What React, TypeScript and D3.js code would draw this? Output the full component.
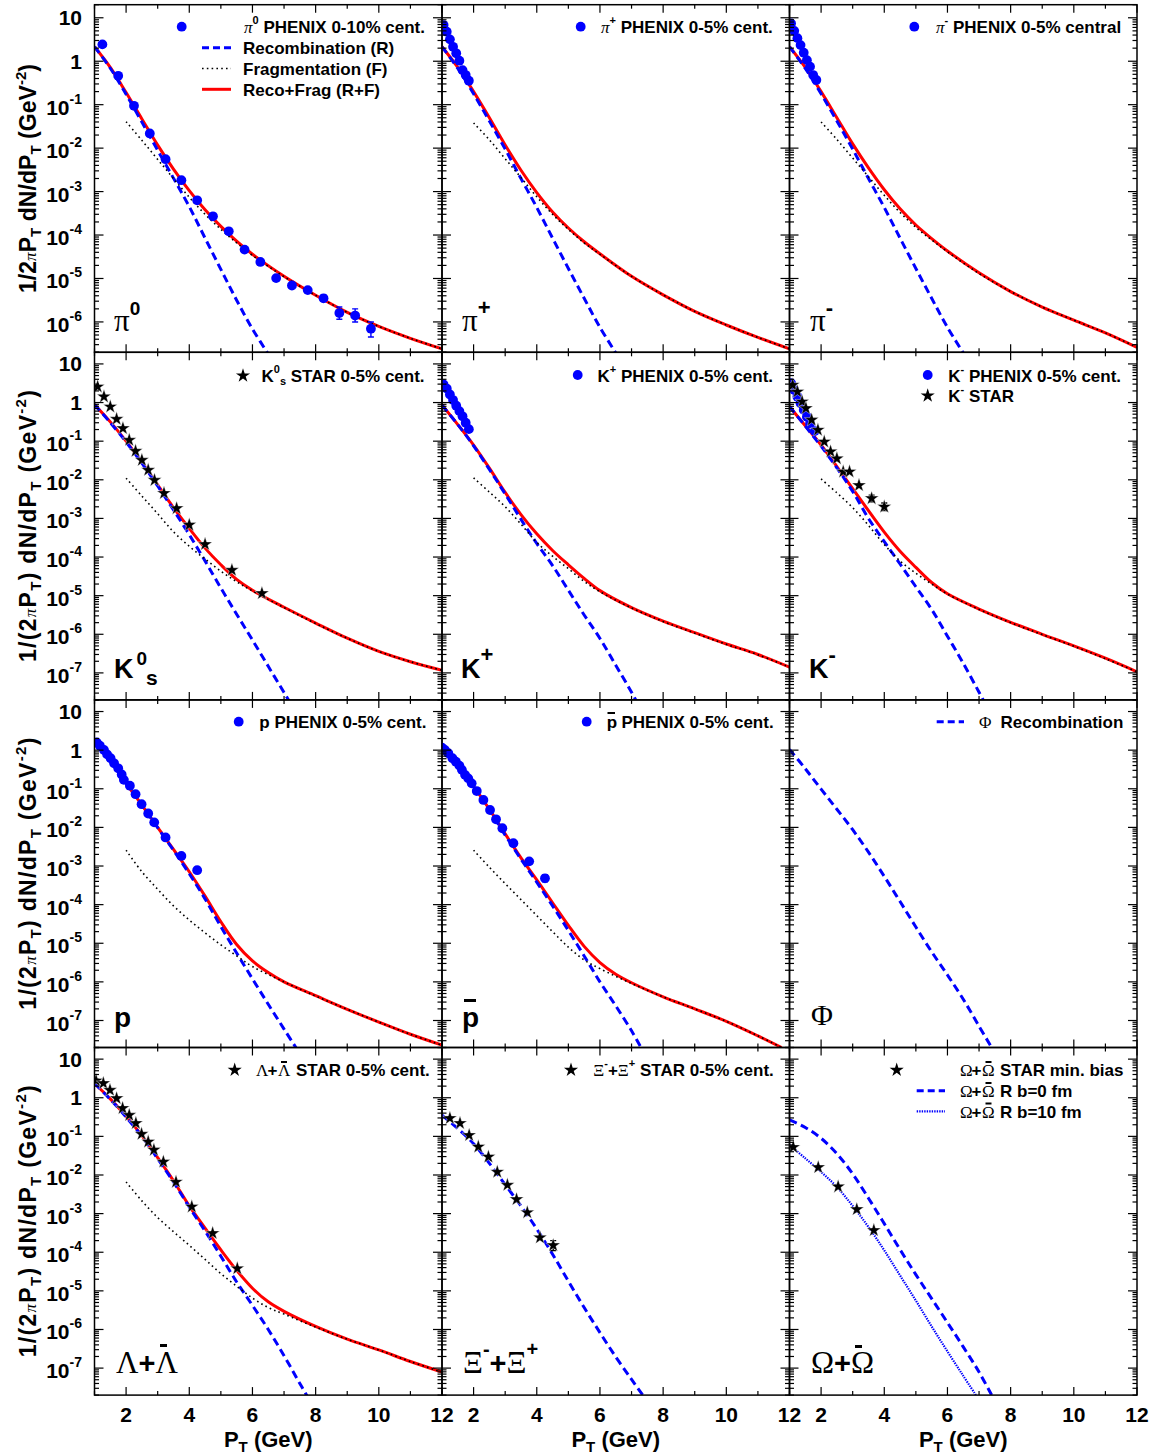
import React from 'react';
import * as d3 from 'd3';

const W = 1158, H = 1456;
const X0 = 94.5, PW = 347.5, Y0 = 4.7, PH = 347.6;
const BLUE = '#0000ff', RED = '#ff0000';
const SANS = "'Liberation Sans', Arial, Helvetica, sans-serif";
const SERIF = "'Liberation Serif', 'Times New Roman', serif";

// ---- axis definitions ----
const xDomain = [1, 12];
const xMajorTicks = [2, 4, 6, 8, 10, 12];
const xMinorTicks = [1, 3, 5, 7, 9, 11];
const yDomainTop = [2e-7, 20];
const yDomainLow = [2e-8, 20];
const yDecadesTop = [1, 0, -1, -2, -3, -4, -5, -6];
const yDecadesLow = [1, 0, -1, -2, -3, -4, -5, -6, -7];

// ---- pi0 ----
const pi0Data = [[1.25, 2.44], [1.75, 0.462], [2.25, 0.0942], [2.75, 0.0218], [3.25, 5.57e-3], [3.75, 1.83e-3], [4.25, 6.3e-4], [4.75, 2.7e-4], [5.25, 1.22e-4], [5.75, 4.62e-5], [6.25, 2.4e-5], [6.75, 1.02e-5], [7.25, 6.9e-6], [7.75, 5.4e-6], [8.25, 3.5e-6], [8.75, 1.6e-6], [9.25, 1.4e-6], [9.75, 7.0e-7]];
const pi0Err = [[8.25, 3.0e-6, 4.1e-6], [8.75, 1.15e-6, 2.2e-6], [9.25, 1.0e-6, 2.0e-6], [9.75, 4.5e-7, 1.0e-6]];
const pi0Reco = [[1, 2.15], [1.5, 0.69], [2, 0.174], [2.5, 0.0398], [3, 8.9e-3], [3.5, 2.04e-3], [4, 4.5e-4], [4.5, 8.5e-5], [5, 1.62e-5], [5.5, 3.16e-6], [6, 6.9e-7], [6.6, 1.41e-7]];
const pi0Frag = [[2, 0.0407], [2.5, 0.0151], [3, 5.5e-3], [3.5, 2.0e-3], [4, 7.4e-4], [4.5, 3.0e-4], [5, 1.35e-4], [5.5, 6.6e-5], [6, 3.4e-5], [7, 1.1e-5], [8, 4.1e-6], [9, 1.66e-6], [10, 7.9e-7], [11, 4.2e-7], [12, 2.4e-7]];
const pi0Sum = [[1, 2.15], [1.5, 0.72], [2, 0.19], [2.5, 0.047], [3, 0.0117], [3.5, 3.3e-3], [4, 1.05e-3], [4.5, 3.8e-4], [5, 1.58e-4], [5.5, 7.2e-5], [6, 3.6e-5], [7, 1.12e-5], [8, 4.1e-6], [9, 1.66e-6], [10, 7.9e-7], [11, 4.2e-7], [12, 2.4e-7]];

// ---- pi+ ----
const piPlusData = [[1.05, 6.8], [1.15, 4.78], [1.25, 3.19], [1.35, 2.15], [1.45, 1.52], [1.55, 1.03], [1.65, 0.625], [1.75, 0.48], [1.85, 0.355]];
const piPlusReco = [[1, 2.15], [1.5, 0.68], [2, 0.178], [2.5, 0.042], [3, 9.5e-3], [3.5, 2.0e-3], [4, 4.3e-4], [4.5, 8.5e-5], [5, 1.7e-5], [5.5, 3.5e-6], [6, 7.5e-7], [6.6, 1.5e-7]];
const piPlusFrag = [[2, 0.038], [2.5, 0.0155], [3, 5.7e-3], [3.5, 2.1e-3], [4, 7.6e-4], [4.5, 3.0e-4], [5, 1.35e-4], [5.5, 6.6e-5], [6, 3.6e-5], [7, 1.12e-5], [8, 4.2e-6], [9, 1.75e-6], [10, 8.5e-7], [11, 4.4e-7], [12, 2.4e-7]];
const piPlusSum = [[1, 2.15], [1.5, 0.72], [2, 0.2], [2.5, 0.05], [3, 0.0118], [3.5, 3.1e-3], [4, 9.5e-4], [4.5, 3.4e-4], [5, 1.45e-4], [5.5, 7.0e-5], [6, 3.7e-5], [7, 1.12e-5], [8, 4.2e-6], [9, 1.75e-6], [10, 8.5e-7], [11, 4.4e-7], [12, 2.4e-7]];

// ---- pi- ----
const piMinusData = [[1.05, 7.4], [1.15, 5.0], [1.25, 3.4], [1.35, 2.35], [1.45, 1.57], [1.55, 1.06], [1.65, 0.75], [1.75, 0.48], [1.85, 0.37]];
const piMinusReco = [[1, 2.15], [1.5, 0.68], [2, 0.178], [2.5, 0.042], [3, 9.5e-3], [3.5, 2.0e-3], [4, 4.3e-4], [4.5, 8.5e-5], [5, 1.7e-5], [5.5, 3.5e-6], [6, 7.5e-7], [6.6, 1.5e-7]];
const piMinusFrag = [[2, 0.04], [2.5, 0.0158], [3, 5.9e-3], [3.5, 2.2e-3], [4, 8.2e-4], [4.5, 3.3e-4], [5, 1.5e-4], [5.5, 7.7e-5], [6, 4.1e-5], [7, 1.3e-5], [8, 5.0e-6], [9, 2.2e-6], [10, 1.1e-6], [11, 5.6e-7], [12, 2.6e-7]];
const piMinusSum = [[1, 2.15], [1.5, 0.72], [2, 0.2], [2.5, 0.05], [3, 0.0125], [3.5, 3.5e-3], [4, 1.1e-3], [4.5, 4.0e-4], [5, 1.7e-4], [5.5, 8.3e-5], [6, 4.3e-5], [7, 1.35e-5], [8, 5.0e-6], [9, 2.2e-6], [10, 1.1e-6], [11, 5.6e-7], [12, 2.6e-7]];

// ---- K0s ----
const k0sData = [[1.1, 2.57], [1.3, 1.42], [1.5, 0.78], [1.7, 0.374], [1.9, 0.215], [2.1, 0.107], [2.3, 0.0555], [2.5, 0.0324], [2.7, 0.0179], [2.9, 9.8e-3], [3.2, 4.5e-3], [3.6, 1.82e-3], [4.0, 6.8e-4], [4.5, 2.14e-4], [5.35, 4.6e-5], [6.3, 1.15e-5]];
const k0sReco = [[1, 0.89], [1.5, 0.302], [2, 0.0955], [2.5, 0.0269], [3, 6.9e-3], [3.5, 1.66e-3], [4, 3.8e-4], [4.5, 7.9e-5], [5, 1.58e-5], [5.5, 3.3e-6], [6, 7.1e-7], [6.5, 1.48e-7], [7, 3.1e-8], [7.25, 1.41e-8]];
const k0sFrag = [[2, 0.011], [2.5, 3.8e-3], [3, 1.32e-3], [3.5, 4.5e-4], [4, 1.9e-4], [4.5, 8.9e-5], [5, 4.3e-5], [5.5, 2.3e-5], [6, 1.32e-5], [7, 4.9e-6], [8, 1.9e-6], [9, 7.9e-7], [10, 3.6e-7], [11, 1.95e-7], [12, 1.17e-7]];
const k0sSum = [[1, 0.89], [1.5, 0.316], [2, 0.1], [2.5, 0.0282], [3, 7.4e-3], [3.5, 1.9e-3], [4, 5.5e-4], [4.5, 1.7e-4], [5, 6.3e-5], [5.5, 2.63e-5], [6, 1.38e-5], [7, 5.0e-6], [8, 1.95e-6], [9, 7.9e-7], [10, 3.6e-7], [11, 1.95e-7], [12, 1.17e-7]];

// ---- K+ ----
const kPlusData = [[1.05, 2.95], [1.15, 2.3], [1.25, 1.62], [1.35, 1.16], [1.45, 0.83], [1.55, 0.6], [1.65, 0.44], [1.75, 0.3], [1.85, 0.205]];
const kPlusReco = [[1, 0.85], [1.5, 0.269], [2, 0.0759], [2.5, 0.0186], [3, 4.3e-3], [3.5, 9.5e-4], [4, 2.24e-4], [4.5, 6.0e-5], [5, 1.38e-5], [5.5, 3.16e-6], [6, 7.8e-7], [6.5, 1.58e-7], [7, 3.16e-8], [7.2, 1.58e-8]];
const kPlusFrag = [[2, 0.0112], [2.5, 4.8e-3], [3, 2.0e-3], [3.5, 7.1e-4], [4, 2.4e-4], [4.5, 1.05e-4], [5, 5.0e-5], [5.5, 2.34e-5], [6, 1.26e-5], [7, 4.8e-6], [8, 2.14e-6], [9, 1.07e-6], [10, 5.5e-7], [11, 2.95e-7], [12, 1.41e-7]];
const kPlusSum = [[1, 0.87], [1.5, 0.269], [2, 0.0794], [2.5, 0.02], [3, 4.7e-3], [3.5, 1.26e-3], [4, 4.0e-4], [4.5, 1.48e-4], [5, 6.3e-5], [5.5, 2.8e-5], [6, 1.35e-5], [7, 4.9e-6], [8, 2.19e-6], [9, 1.1e-6], [10, 5.6e-7], [11, 3.0e-7], [12, 1.41e-7]];

// ---- K- ----
const kMinusPhenix = [[1.05, 3.16], [1.15, 2.11], [1.25, 1.41], [1.35, 0.955], [1.45, 0.645], [1.55, 0.427], [1.65, 0.288], [1.8, 0.182]];
const kMinusStar = [[1.1, 2.84], [1.25, 1.9], [1.4, 1.05], [1.52, 0.71], [1.7, 0.355], [1.9, 0.195], [2.1, 0.0966], [2.3, 0.0537], [2.5, 0.0355], [2.7, 0.0162], [2.9, 0.0162], [3.2, 7.2e-3], [3.6, 3.3e-3], [4.0, 2.0e-3]];
const kMinusStarErr = [[3.6, 2.7e-3, 4.0e-3], [4.0, 1.6e-3, 2.5e-3]];
const kMinusReco = [[1, 0.79], [1.5, 0.245], [2, 0.0741], [2.5, 0.0204], [3, 5.0e-3], [3.5, 1.0e-3], [4, 2.5e-4], [4.5, 6.6e-5], [5, 1.7e-5], [5.5, 4.4e-6], [6, 8.9e-7], [6.5, 1.78e-7], [7, 3.16e-8], [7.2, 1.58e-8]];
const kMinusFrag = [[2, 0.0105], [2.5, 4.6e-3], [3, 1.9e-3], [3.5, 6.6e-4], [4, 2.1e-4], [4.5, 7.9e-5], [5, 3.8e-5], [5.5, 2.0e-5], [6, 1.1e-5], [7, 4.4e-6], [8, 2.0e-6], [9, 9.8e-7], [10, 4.9e-7], [11, 2.34e-7], [12, 1.07e-7]];
const kMinusSum = [[1, 0.79], [1.5, 0.25], [2, 0.0794], [2.5, 0.0219], [3, 5.9e-3], [3.5, 1.58e-3], [4, 4.4e-4], [4.5, 1.41e-4], [5, 5.4e-5], [5.5, 2.19e-5], [6, 1.12e-5], [7, 4.5e-6], [8, 2.04e-6], [9, 1.0e-6], [10, 5.0e-7], [11, 2.4e-7], [12, 1.07e-7]];

// ---- p ----
const pData = [[1.07, 1.58], [1.17, 1.3], [1.3, 1.01], [1.4, 0.776], [1.51, 0.617], [1.62, 0.457], [1.75, 0.339], [1.86, 0.234], [1.93, 0.17], [2.12, 0.12], [2.3, 0.0724], [2.49, 0.0398], [2.7, 0.0229], [2.89, 0.0135], [3.25, 5.5e-3], [3.75, 1.82e-3], [4.25, 7.8e-4]];
const pErr = [[4.25, 6.6e-4, 9.2e-4]];
const pReco = [[1, 1.66], [1.5, 0.537], [2, 0.138], [2.5, 0.0372], [3, 9.8e-3], [3.5, 2.57e-3], [4, 6.3e-4], [4.5, 1.41e-4], [5, 2.7e-5], [5.5, 5.6e-6], [6, 1.2e-6], [6.5, 2.63e-7], [7, 6.0e-8], [7.5, 1.38e-8]];
const pFrag = [[2, 2.57e-3], [2.5, 7.1e-4], [3, 2.5e-4], [3.5, 9.3e-5], [4, 4.0e-5], [4.5, 1.86e-5], [5, 9.1e-6], [5.5, 4.7e-6], [6, 2.5e-6], [7, 1.0e-6], [8, 4.3e-7], [9, 1.95e-7], [10, 9.1e-8], [11, 4.4e-8], [12, 2.3e-8]];
const pSum = [[1, 1.66], [1.5, 0.537], [2, 0.138], [2.5, 0.038], [3, 0.01], [3.5, 2.69e-3], [4, 7.1e-4], [4.5, 1.66e-4], [5, 3.6e-5], [5.5, 9.3e-6], [6, 3.5e-6], [6.5, 1.74e-6], [7, 1.0e-6], [8, 4.4e-7], [9, 1.95e-7], [10, 9.1e-8], [11, 4.4e-8], [12, 2.3e-8]];

// ---- pbar ----
const pbarData = [[1.0, 1.16], [1.09, 1.01], [1.2, 0.832], [1.33, 0.617], [1.44, 0.501], [1.55, 0.398], [1.63, 0.309], [1.73, 0.229], [1.83, 0.186], [1.94, 0.138], [2.1, 0.0871], [2.31, 0.0513], [2.52, 0.0282], [2.71, 0.0162], [2.91, 9.5e-3], [3.26, 3.9e-3], [3.76, 1.32e-3], [4.26, 4.8e-4]];
const pbarErr = [[4.26, 3.9e-4, 5.9e-4]];
const pbarReco = [[1, 1.12], [1.5, 0.398], [2, 0.112], [2.5, 0.0282], [3, 6.3e-3], [3.5, 1.51e-3], [4, 3.8e-4], [4.5, 9.3e-5], [5, 2.14e-5], [5.5, 4.7e-6], [6, 1.0e-6], [6.5, 2.4e-7], [7, 5.4e-8], [7.3, 2.0e-8]];
const pbarFrag = [[2, 2.57e-3], [2.5, 9.3e-4], [3, 3.5e-4], [3.5, 1.35e-4], [4, 5.2e-5], [4.5, 2.0e-5], [5, 7.9e-6], [5.5, 3.7e-6], [6, 2.2e-6], [7, 9.1e-7], [8, 4.1e-7], [9, 2.0e-7], [10, 9.5e-8], [11, 4.0e-8], [11.75, 2.0e-8]];
const pbarSum = [[1, 1.12], [1.5, 0.398], [2, 0.115], [2.5, 0.0295], [3, 6.8e-3], [3.5, 1.62e-3], [4, 4.4e-4], [4.5, 1.12e-4], [5, 2.9e-5], [5.5, 8.3e-6], [6, 3.16e-6], [6.5, 1.58e-6], [7, 9.5e-7], [8, 4.1e-7], [9, 2.0e-7], [10, 9.5e-8], [11, 4.0e-8], [11.75, 2.0e-8]];

// ---- phi ----
const phiReco = [[1, 1.05], [1.5, 0.331], [2, 0.0977], [2.5, 0.0295], [3, 8.7e-3], [3.5, 2.29e-3], [4, 5.4e-4], [4.5, 1.2e-4], [5, 2.63e-5], [5.5, 6.0e-6], [6, 1.51e-6], [6.5, 3.55e-7], [7, 7.1e-8], [7.4, 2.0e-8]];

// ---- Lambda ----
const lamData = [[1.05, 2.76], [1.28, 2.37], [1.49, 1.58], [1.7, 0.966], [1.89, 0.537], [2.1, 0.355], [2.31, 0.219], [2.49, 0.115], [2.7, 0.0724], [2.88, 0.0447], [3.18, 0.0219], [3.58, 6.6e-3], [4.08, 1.51e-3], [4.74, 3.1e-4], [5.52, 3.8e-5]];
const lamReco = [[1, 2.34], [1.5, 0.912], [2, 0.316], [2.5, 0.1], [3, 0.0263], [3.5, 6.6e-3], [4, 1.48e-3], [4.5, 3.55e-4], [5, 7.9e-5], [5.5, 1.7e-5], [6, 4.2e-6], [6.5, 1.0e-6], [7, 2.1e-7], [7.5, 4.0e-8], [7.75, 1.78e-8]];
const lamFrag = [[2, 6.6e-3], [2.5, 2.14e-3], [3, 7.9e-4], [3.5, 3.4e-4], [4, 1.51e-4], [4.5, 6.5e-5], [5, 2.8e-5], [5.5, 1.32e-5], [6, 6.5e-6], [6.5, 3.7e-6], [7, 2.5e-6], [8, 1.15e-6], [9, 5.6e-7], [10, 2.95e-7], [11, 1.48e-7], [12, 7.9e-8]];
const lamSum = [[1, 2.34], [1.5, 0.933], [2, 0.331], [2.5, 0.105], [3, 0.0282], [3.5, 7.1e-3], [4, 1.58e-3], [4.5, 4.2e-4], [5, 1.15e-4], [5.5, 3.4e-5], [6, 1.17e-5], [6.5, 5.2e-6], [7, 2.95e-6], [8, 1.2e-6], [9, 5.6e-7], [10, 2.95e-7], [11, 1.48e-7], [12, 7.9e-8]];

// ---- Xi ----
const xiData = [[1.25, 0.295], [1.57, 0.219], [1.86, 0.107], [2.15, 0.0537], [2.47, 0.0295], [2.75, 0.012], [3.07, 5.5e-3], [3.36, 2.34e-3], [3.7, 1.07e-3], [4.1, 2.4e-4], [4.52, 1.51e-4]];
const xiErr = [[4.52, 1.1e-4, 2.0e-4]];
const xiReco = [[1, 0.355], [1.5, 0.158], [2, 0.0646], [2.5, 0.02], [3, 5.6e-3], [3.5, 1.58e-3], [4, 4.0e-4], [4.5, 8.9e-5], [5, 1.78e-5], [5.5, 3.7e-6], [6, 8.3e-7], [6.5, 1.95e-7], [7, 5.1e-8], [7.4, 1.78e-8]];

// ---- Omega ----
const omegaData = [[1.12, 0.0525], [1.91, 0.0158], [2.54, 5.0e-3], [3.13, 1.29e-3], [3.67, 3.7e-4]];
const omegaRecoB0 = [[1, 0.269], [1.5, 0.17], [2, 0.0891], [2.5, 0.0355], [3, 0.0107], [3.5, 2.51e-3], [4, 5.5e-4], [4.5, 1.17e-4], [5, 2.63e-5], [5.5, 6.3e-6], [6, 1.51e-6], [6.5, 3.55e-7], [7, 7.9e-8], [7.4, 2.0e-8]];
const omegaRecoB10 = [[1, 0.0603], [1.5, 0.0269], [2, 0.012], [2.5, 4.9e-3], [3, 1.58e-3], [3.5, 4.5e-4], [4, 1.12e-4], [4.5, 2.5e-5], [5, 5.6e-6], [5.5, 1.2e-6], [6, 2.7e-7], [6.5, 6.3e-8], [6.9, 2.0e-8]];

const STYLE = {
  R: { stroke: BLUE, strokeWidth: 3, strokeDasharray: '8,4.5' },
  F: { stroke: '#000', strokeWidth: 1.6, strokeDasharray: '1.6,3.2' },
  S: { stroke: RED, strokeWidth: 3 },
  D: { stroke: BLUE, strokeWidth: 2.2, strokeDasharray: '1.4,1.1' },
};

const panels = [
  { row: 0, col: 0, curves: [['S', pi0Sum], ['R', pi0Reco], ['F', pi0Frag]], marks: [['circle', pi0Data]], errs: [['circle', pi0Err]] },
  { row: 0, col: 1, curves: [['S', piPlusSum], ['R', piPlusReco], ['F', piPlusFrag]], marks: [['circle', piPlusData]], errs: [] },
  { row: 0, col: 2, curves: [['S', piMinusSum], ['R', piMinusReco], ['F', piMinusFrag]], marks: [['circle', piMinusData]], errs: [] },
  { row: 1, col: 0, curves: [['S', k0sSum], ['R', k0sReco], ['F', k0sFrag]], marks: [['star', k0sData]], errs: [] },
  { row: 1, col: 1, curves: [['S', kPlusSum], ['R', kPlusReco], ['F', kPlusFrag]], marks: [['circle', kPlusData]], errs: [] },
  { row: 1, col: 2, curves: [['S', kMinusSum], ['R', kMinusReco], ['F', kMinusFrag]], marks: [['circle', kMinusPhenix], ['star', kMinusStar]], errs: [['star', kMinusStarErr]] },
  { row: 2, col: 0, curves: [['S', pSum], ['R', pReco], ['F', pFrag]], marks: [['circle', pData]], errs: [['circle', pErr]] },
  { row: 2, col: 1, curves: [['S', pbarSum], ['R', pbarReco], ['F', pbarFrag]], marks: [['circle', pbarData]], errs: [['circle', pbarErr]] },
  { row: 2, col: 2, curves: [['R', phiReco]], marks: [], errs: [] },
  { row: 3, col: 0, curves: [['S', lamSum], ['R', lamReco], ['F', lamFrag]], marks: [['star', lamData]], errs: [] },
  { row: 3, col: 1, curves: [['R', xiReco]], marks: [['star', xiData]], errs: [['star', xiErr]] },
  { row: 3, col: 2, curves: [['R', omegaRecoB0], ['D', omegaRecoB10]], marks: [['star', omegaData]], errs: [] },
];

const starPath = d3.symbol().type(d3.symbolStar).size(62)();

function xScaleFor(col) {
  return d3.scaleLinear().domain(xDomain).range([X0 + col * PW, X0 + (col + 1) * PW]);
}
function yScaleFor(row) {
  return d3.scaleLog().domain(row === 0 ? yDomainTop : yDomainLow).range([Y0 + (row + 1) * PH, Y0 + row * PH]);
}

function Panel({ p }) {
  const x = xScaleFor(p.col);
  const y = yScaleFor(p.row);
  const [xl, xr] = x.range();
  const [yb, yt] = y.range();
  const gen = d3.line().x((d) => x(d[0])).y((d) => y(d[1])).curve(d3.curveCatmullRom.alpha(0.5));
  const clipId = `clip-${p.row}-${p.col}`;
  const ticks = [];
  xMajorTicks.concat(xMinorTicks).forEach((v, i) => {
    const len = xMajorTicks.includes(v) ? 8 : 4;
    const px = x(v);
    ticks.push(<line key={`xb${i}`} x1={px} x2={px} y1={yb} y2={yb - len} />);
    ticks.push(<line key={`xt${i}`} x1={px} x2={px} y1={yt} y2={yt + len} />);
  });
  const [d0, d1] = y.domain();
  const e0 = Math.floor(Math.log10(d0)), e1 = Math.ceil(Math.log10(d1));
  for (let e = e0; e <= e1; e++) {
    for (let m = 1; m <= 9; m++) {
      const v = m * Math.pow(10, e);
      if (v < d0 * 0.999 || v > d1 * 1.001) continue;
      const len = m === 1 ? 9 : 4.5;
      const py = y(v);
      ticks.push(<line key={`yl${e}${m}`} x1={xl} x2={xl + len} y1={py} y2={py} />);
      ticks.push(<line key={`yr${e}${m}`} x1={xr} x2={xr - len} y1={py} y2={py} />);
    }
  }
  return (
    <g>
      <defs>
        <clipPath id={clipId}><rect x={xl} y={yt} width={xr - xl} height={yb - yt} /></clipPath>
      </defs>
      <g clipPath={`url(#${clipId})`}>
        {p.curves.map(([k, pts], i) => (
          <path key={i} d={gen(pts)} fill="none" {...STYLE[k]} />
        ))}
        {p.errs.map(([kind, arr], j) => arr.map((e, i) => {
          const px = x(e[0]);
          const col = kind === 'circle' ? BLUE : '#000';
          return (
            <g key={`e${j}-${i}`} stroke={col} strokeWidth={1.4}>
              <line x1={px} x2={px} y1={y(e[1])} y2={y(e[2])} />
              <line x1={px - 3} x2={px + 3} y1={y(e[1])} y2={y(e[1])} />
              <line x1={px - 3} x2={px + 3} y1={y(e[2])} y2={y(e[2])} />
            </g>
          );
        }))}
        {p.marks.map(([kind, arr], j) => arr.map((d, i) => kind === 'circle'
          ? <circle key={`m${j}-${i}`} cx={x(d[0])} cy={y(d[1])} r={4.9} fill={BLUE} />
          : <path key={`m${j}-${i}`} d={starPath} transform={`translate(${x(d[0])},${y(d[1])})`} fill="#000" stroke="#fff" strokeWidth={0.4} />))}
      </g>
      <g stroke="#000" strokeWidth={1.2}>{ticks}</g>
      <rect x={xl} y={yt} width={xr - xl} height={yb - yt} fill="none" stroke="#000" strokeWidth={1.5} />
    </g>
  );
}

function YTickLabels({ row }) {
  const y = yScaleFor(row);
  const decs = row === 0 ? yDecadesTop : yDecadesLow;
  return (
    <g fontFamily={SANS} fontWeight="bold" fontSize={21} textAnchor="end">
      {decs.map((e) => {
        const py = y(Math.pow(10, e));
        if (e === 1) return <text key={e} x={82} y={py + 7.5}>10</text>;
        if (e === 0) return <text key={e} x={82} y={py + 7.5}>1</text>;
        return (
          <text key={e} x={82} y={py + 10}>10<tspan fontSize={14} dy={-11}>{String(e)}</tspan></text>
        );
      })}
    </g>
  );
}

function YTitle({ row }) {
  const cy = Y0 + row * PH + PH / 2;
  const paren = row !== 0;
  return (
    <text transform={`translate(36,${cy}) rotate(-90)`} textAnchor="middle" fontFamily={SANS} fontWeight="bold" fontSize={23}
      textLength={paren ? 272 : 229} lengthAdjust="spacing">
      <tspan>{paren ? '1/(2' : '1/2'}</tspan>
      <tspan fontFamily={SERIF} fontStyle="italic" fontWeight="normal" fontSize={17}>π</tspan>
      <tspan>P</tspan>
      <tspan fontSize={15} dy={5}>T</tspan>
      <tspan dy={-5}>{paren ? ') dN/dP' : ' dN/dP'}</tspan>
      <tspan fontSize={15} dy={5}>T</tspan>
      <tspan dy={-5}>{' (GeV'}</tspan>
      <tspan fontSize={15} dy={-10}>-2</tspan>
      <tspan dy={10}>)</tspan>
    </text>
  );
}

function XAxisBottom({ col }) {
  const x = xScaleFor(col);
  const cx = X0 + col * PW + PW / 2;
  return (
    <g fontFamily={SANS} fontWeight="bold">
      {xMajorTicks.map((v) => (
        <text key={v} x={x(v)} y={1422} textAnchor="middle" fontSize={21}>{v}</text>
      ))}
      <text x={cx} y={1447} textAnchor="middle" fontSize={22}>
        P<tspan fontSize={15} dy={5}>T</tspan><tspan dy={-5}>{' (GeV)'}</tspan>
      </text>
    </g>
  );
}

const Gk = ({ children, size = 17, italic = false, x = undefined }) => (
  <tspan x={x} fontFamily={SERIF} fontWeight="normal" fontStyle={italic ? 'italic' : 'normal'} fontSize={size}>{children}</tspan>
);

// Greek "A+Abar" group for legends, placed glyph by glyph
function GreekPair({ x, y, g, barDx, rest }) {
  return (
    <g>
      <text x={x} y={y}><Gk>{g}</Gk></text>
      <text x={x + 11.5} y={y}>+</text>
      <text x={x + 22} y={y}><Gk>{g}</Gk></text>
      <rect x={x + 22 + barDx} y={y - 15} width={6} height={2} fill="#000" />
      <text x={x + 40} y={y}>{rest}</text>
    </g>
  );
}

function Legends() {
  const dot = (cx, cy) => <circle cx={cx} cy={cy} r={4.9} fill={BLUE} />;
  const star = (cx, cy) => <path d={starPath} transform={`translate(${cx},${cy})`} fill="#000" />;
  return (
    <g fontFamily={SANS} fontWeight="bold" fontSize={17}>
      {/* pi0 */}
      {dot(181.7, 26.7)}
      <text x={244} y={33}><Gk italic>π</Gk><tspan fontSize={11} dy={-9}>0</tspan><tspan dy={9}>{' PHENIX 0-10% cent.'}</tspan></text>
      <line x1={202} x2={231} y1={47.7} y2={47.7} stroke={BLUE} strokeWidth={3} strokeDasharray="7,4" />
      <text x={243} y={54}>Recombination (R)</text>
      <line x1={202} x2={231} y1={68.5} y2={68.5} stroke="#000" strokeWidth={1.6} strokeDasharray="1.6,3.2" />
      <text x={243} y={75}>Fragmentation (F)</text>
      <line x1={202} x2={231} y1={89.3} y2={89.3} stroke={RED} strokeWidth={3} />
      <text x={243} y={96}>Reco+Frag (R+F)</text>
      {/* pi+ */}
      {dot(580.7, 26.7)}
      <text x={601} y={33}><Gk italic>π</Gk><tspan fontSize={11} dy={-9}>+</tspan><tspan dy={9}>{' PHENIX 0-5% cent.'}</tspan></text>
      {/* pi- */}
      {dot(914.3, 26.7)}
      <text x={936} y={33}><Gk italic>π</Gk><tspan fontSize={11} dy={-9}>-</tspan><tspan dy={9}>{' PHENIX 0-5% central'}</tspan></text>
      {/* K0s */}
      {star(243, 375.7)}
      <text x={261.5} y={382}>K<tspan fontSize={11} dy={-9}>0</tspan><tspan fontSize={11} dy={12}>s</tspan><tspan dy={-3}>{' STAR 0-5% cent.'}</tspan></text>
      {/* K+ */}
      {dot(577.7, 375)}
      <text x={597.5} y={381.5}>K<tspan fontSize={11} dy={-9}>+</tspan><tspan dy={9}>{' PHENIX 0-5% cent.'}</tspan></text>
      {/* K- */}
      {dot(927.7, 375)}
      <text x={948.3} y={381.5}>K<tspan fontSize={11} dy={-9}>-</tspan><tspan dy={9}>{' PHENIX 0-5% cent.'}</tspan></text>
      {star(927.7, 395.7)}
      <text x={948.3} y={402}>K<tspan fontSize={11} dy={-9}>-</tspan><tspan dy={9}>{' STAR'}</tspan></text>
      {/* p */}
      {dot(238.7, 721.7)}
      <text x={259.3} y={728}>p PHENIX 0-5% cent.</text>
      {/* pbar */}
      {dot(586.7, 721.7)}
      <text x={606.7} y={728}>p</text>
      <rect x={607.5} y={712} width={7.5} height={2} fill="#000" />
      <text x={621.5} y={728}>PHENIX 0-5% cent.</text>
      {/* phi */}
      <line x1={936.7} x2={964} y1={721.7} y2={721.7} stroke={BLUE} strokeWidth={3} strokeDasharray="7,4" />
      <text x={979} y={728}><Gk>Φ</Gk></text>
      <text x={1000.5} y={728}>Recombination</text>
      {/* Lambda */}
      {star(234.7, 1070)}
      <GreekPair x={256} y={1076} g="Λ" barDx={3} rest="STAR 0-5% cent." />
      {/* Xi */}
      {star(571, 1070)}
      <text x={593.3} y={1076}><Gk>Ξ</Gk><tspan fontSize={11} dy={-9}>-</tspan><tspan dy={9}>+</tspan><Gk>Ξ</Gk><tspan fontSize={11} dy={-9}>+</tspan><tspan dy={9}>{' STAR 0-5% cent.'}</tspan></text>
      {/* Omega */}
      {star(896.7, 1070)}
      <GreekPair x={960} y={1076} g="Ω" barDx={3.5} rest="STAR min. bias" />
      <line x1={916.7} x2={945} y1={1090.7} y2={1090.7} stroke={BLUE} strokeWidth={3} strokeDasharray="7,4" />
      <GreekPair x={960} y={1097} g="Ω" barDx={3.5} rest="R b=0 fm" />
      <line x1={916.7} x2={945} y1={1111.3} y2={1111.3} stroke={BLUE} strokeWidth={2.2} strokeDasharray="1.4,1.1" />
      <GreekPair x={960} y={1117.5} g="Ω" barDx={3.5} rest="R b=10 fm" />
    </g>
  );
}

function PanelLabels() {
  return (
    <g fontFamily={SANS} fontWeight="bold">
      <text x={114} y={331}><Gk size={31}>π</Gk><tspan fontSize={19} dy={-16}>0</tspan></text>
      <text x={462} y={331}><Gk size={31}>π</Gk><tspan fontSize={22} dy={-16}>+</tspan></text>
      <text x={810} y={331}><Gk size={31}>π</Gk><tspan fontSize={22} dy={-16}>-</tspan></text>

      <text x={114} y={678} fontSize={27}>K</text>
      <text x={136.5} y={665} fontSize={19}>0</text>
      <text x={146} y={685} fontSize={21}>s</text>
      <text x={461} y={678} fontSize={27}>K<tspan fontSize={22} dy={-16}>+</tspan></text>
      <text x={809} y={678} fontSize={27}>K<tspan fontSize={22} dy={-16}>-</tspan></text>

      <text x={114} y={1027} fontSize={28}>p</text>
      <text x={462} y={1027} fontSize={28}>p</text>
      <rect x={464} y={999} width={12} height={3} fill="#000" />
      <text x={811} y={1025}><Gk size={30}>Φ</Gk></text>

      <text x={116} y={1373}><Gk size={31}>Λ</Gk><tspan fontSize={29}>+</tspan><Gk size={31}>Λ</Gk></text>
      <rect x={160} y={1344} width={7} height={3} fill="#000" />
      <text x={463} y={1373}><Gk size={31}>Ξ</Gk><tspan fontSize={20} dy={-17}>-</tspan><tspan fontSize={29} dy={17}>+</tspan><Gk size={31}>Ξ</Gk><tspan fontSize={20} dy={-17}>+</tspan></text>
      <text x={811} y={1373}><Gk size={31}>Ω</Gk><tspan fontSize={29}>+</tspan><Gk size={31}>Ω</Gk></text>
      <rect x={855} y={1345} width={7} height={3} fill="#000" />
    </g>
  );
}

export default function App() {
  return (
    <svg width={W} height={H} viewBox={`0 0 ${W} ${H}`} style={{ position: 'absolute', left: 0, top: 0, background: '#fff' }}>
      <rect x={0} y={0} width={W} height={H} fill="#fff" />
      {panels.map((p) => <Panel key={`${p.row}-${p.col}`} p={p} />)}
      {[0, 1, 2, 3].map((r) => <YTickLabels key={`yt${r}`} row={r} />)}
      {[0, 1, 2, 3].map((r) => <YTitle key={`ytl${r}`} row={r} />)}
      {[0, 1, 2].map((c) => <XAxisBottom key={`xb${c}`} col={c} />)}
      <Legends />
      <PanelLabels />
    </svg>
  );
}
